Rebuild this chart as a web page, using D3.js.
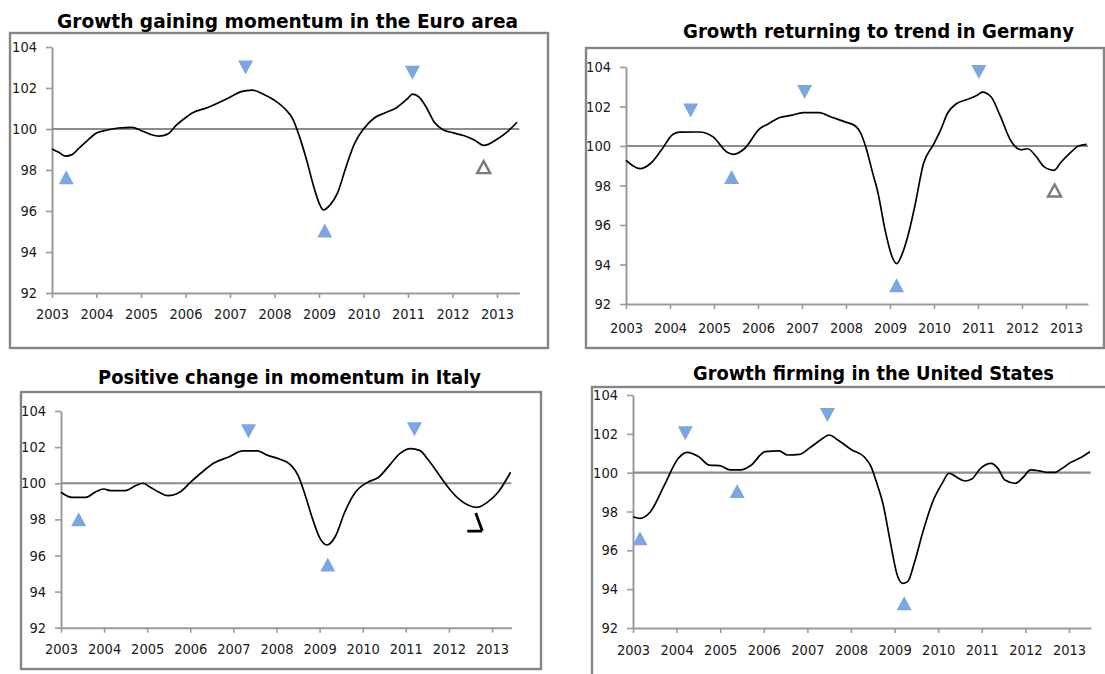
<!DOCTYPE html>
<html>
<head>
<meta charset="utf-8">
<script src="https://cdn.jsdelivr.net/npm/d3@7"></script>
<style>
  body { margin: 0; background: #fff; }
  text { font-family: "DejaVu Sans Condensed", "DejaVu Sans", sans-serif; }
</style>
</head>
<body>
<svg id="chart" width="1105" height="674"></svg>
<script>
// tick values shared by all four panels
var years = d3.range(2003, 2014);
var yTicks = [92, 94, 96, 98, 100, 102, 104];

// Euro area
var euroT = [2003.0, 2003.15, 2003.3, 2003.45, 2003.6, 2003.8, 2004.0, 2004.25, 2004.5, 2004.8, 2005.0, 2005.2, 2005.4, 2005.6, 2005.8, 2006.0, 2006.15, 2006.5, 2007.0, 2007.25, 2007.5, 2007.75, 2008.0, 2008.25, 2008.42, 2008.55, 2008.72, 2008.88, 2009.0, 2009.1, 2009.25, 2009.42, 2009.6, 2009.8, 2010.0, 2010.25, 2010.5, 2010.75, 2011.0, 2011.1, 2011.25, 2011.4, 2011.6, 2011.8, 2012.0, 2012.25, 2012.5, 2012.7, 2013.0, 2013.25, 2013.45];
var euroV = [99.03, 98.86, 98.68, 98.75, 99.05, 99.45, 99.8, 99.95, 100.05, 100.08, 99.93, 99.75, 99.65, 99.75, 100.2, 100.55, 100.78, 101.05, 101.55, 101.82, 101.9, 101.7, 101.4, 100.95, 100.45, 99.7, 98.5, 97.2, 96.4, 96.05, 96.3, 96.9, 98.1, 99.3, 100.0, 100.55, 100.8, 101.05, 101.5, 101.7, 101.55, 101.1, 100.3, 99.95, 99.82, 99.68, 99.45, 99.2, 99.5, 99.9, 100.33];
var euroUp = [[2003.32, 97.65], [2009.13, 95.05]];
var euroDown = [[2007.35, 103.0], [2011.1, 102.75]];
var euroOpen = [[2012.7, 98.14]];

// Germany
var gerT = [2003.0, 2003.32, 2003.55, 2003.8, 2004.07, 2004.23, 2004.66, 2004.98, 2005.29, 2005.45, 2005.69, 2006.04, 2006.24, 2006.48, 2006.75, 2007.03, 2007.39, 2007.66, 2007.98, 2008.22, 2008.34, 2008.45, 2008.61, 2008.73, 2008.89, 2009.05, 2009.15, 2009.28, 2009.4, 2009.56, 2009.76, 2010.0, 2010.15, 2010.31, 2010.51, 2010.75, 2010.98, 2011.1, 2011.3, 2011.5, 2011.74, 2011.97, 2012.13, 2012.33, 2012.49, 2012.73, 2012.89, 2013.12, 2013.28, 2013.47];
var gerV = [99.27, 98.85, 99.1, 99.78, 100.6, 100.7, 100.71, 100.46, 99.7, 99.58, 99.86, 100.88, 101.13, 101.43, 101.55, 101.69, 101.69, 101.47, 101.22, 101.0, 100.62, 99.95, 98.6, 97.59, 95.73, 94.38, 94.04, 94.55, 95.39, 96.91, 99.1, 100.12, 100.8, 101.67, 102.14, 102.35, 102.57, 102.73, 102.48, 101.55, 100.29, 99.81, 99.86, 99.44, 98.97, 98.77, 99.19, 99.7, 100.0, 100.08];
var gerUp = [[2005.4, 98.43], [2009.15, 92.95]];
var gerDown = [[2004.47, 101.8], [2007.06, 102.73], [2011.02, 103.75]];
var gerOpen = [[2012.74, 97.75]];

// Italy
var itaT = [2003.0, 2003.25, 2003.58, 2003.79, 2003.99, 2004.16, 2004.49, 2004.74, 2004.9, 2005.07, 2005.28, 2005.48, 2005.77, 2006.02, 2006.27, 2006.56, 2006.89, 2007.22, 2007.55, 2007.8, 2008.05, 2008.34, 2008.5, 2008.67, 2008.84, 2009.0, 2009.17, 2009.37, 2009.58, 2009.83, 2010.12, 2010.37, 2010.62, 2010.86, 2011.11, 2011.32, 2011.53, 2011.73, 2011.98, 2012.23, 2012.44, 2012.64, 2012.89, 2013.14, 2013.43];
var itaV = [99.5, 99.22, 99.22, 99.5, 99.68, 99.59, 99.59, 99.87, 100.0, 99.78, 99.5, 99.31, 99.53, 100.09, 100.61, 101.13, 101.45, 101.79, 101.79, 101.54, 101.36, 100.99, 100.43, 99.31, 98.0, 96.99, 96.58, 97.08, 98.38, 99.5, 100.06, 100.33, 100.99, 101.64, 101.92, 101.82, 101.27, 100.61, 99.78, 99.13, 98.79, 98.66, 98.94, 99.5, 100.61];
var itaUp = [[2003.41, 98.0], [2009.19, 95.5]];
var itaDown = [[2007.35, 102.88], [2011.2, 102.99]];
var itaBroken = [[2012.6, 97.85]];

// United States
var usT = [2003.0, 2003.16, 2003.4, 2003.72, 2004.04, 2004.24, 2004.51, 2004.75, 2004.99, 2005.23, 2005.47, 2005.71, 2006.03, 2006.35, 2006.55, 2006.82, 2007.06, 2007.3, 2007.5, 2007.7, 2008.02, 2008.3, 2008.46, 2008.58, 2008.74, 2008.9, 2009.06, 2009.18, 2009.3, 2009.45, 2009.65, 2009.89, 2010.09, 2010.25, 2010.41, 2010.61, 2010.77, 2010.97, 2011.21, 2011.37, 2011.53, 2011.77, 2011.96, 2012.12, 2012.32, 2012.48, 2012.68, 2012.84, 2013.04, 2013.24, 2013.48];
var usV = [97.73, 97.65, 97.99, 99.36, 100.74, 101.05, 100.82, 100.39, 100.36, 100.14, 100.14, 100.39, 101.08, 101.12, 100.91, 100.94, 101.29, 101.68, 101.94, 101.68, 101.17, 100.82, 100.31, 99.54, 98.33, 96.45, 94.73, 94.3, 94.39, 95.33, 96.96, 98.59, 99.45, 99.97, 99.79, 99.57, 99.67, 100.22, 100.48, 100.22, 99.62, 99.45, 99.79, 100.14, 100.09, 100.02, 100.02, 100.22, 100.53, 100.74, 101.08];
var usUp = [[2003.16, 96.62], [2005.39, 99.06], [2009.22, 93.27]];
var usDown = [[2004.2, 102.03], [2007.46, 102.97]];

var svg = d3.select("#chart");
svg.append("rect").attr("width", 1105).attr("height", 674).attr("fill", "#fff");

var panels = [
  { title: "Growth gaining momentum in the Euro area", tx: 287.5, ty: 28, tw: 461,
    frame: [10, 33, 538, 315], x0: 52, perYear: 44.5, xEnd: 2013.5, yTop: 47, yBottom: 293, xPad: 11,
    t: euroT, v: euroV, up: euroUp, down: euroDown, open: euroOpen, broken: [] },
  { title: "Growth returning to trend in Germany", tx: 878.5, ty: 38, tw: 391,
    frame: [586, 48, 518, 300], x0: 626, perYear: 44, xEnd: 2013.5, yTop: 67, yBottom: 304, xPad: 14,
    t: gerT, v: gerV, up: gerUp, down: gerDown, open: gerOpen, broken: [] },
  { title: "Positive change in momentum in Italy", tx: 289.5, ty: 384, tw: 383,
    frame: [21, 392, 520, 277], x0: 61, perYear: 43.1, xEnd: 2013.45, yTop: 411, yBottom: 627.7, xPad: 11,
    t: itaT, v: itaV, up: itaUp, down: itaDown, open: [], broken: itaBroken },
  { title: "Growth firming in the United States", tx: 873.5, ty: 380, tw: 361,
    frame: [592, 387, 600, 400], x0: 633, perYear: 43.6, xEnd: 2013.5, yTop: 395, yBottom: 628, xPad: 12,
    t: usT, v: usV, up: usUp, down: usDown, open: [], broken: [] }
];

function triangle(w, h) {
  return "M0," + (-h / 2) + "L" + (w / 2) + "," + (h / 2) + "L" + (-w / 2) + "," + (h / 2) + "Z";
}

function drawPanel(p) {
  var g = svg.append("g");

  g.append("rect")
    .attr("x", p.frame[0]).attr("y", p.frame[1])
    .attr("width", p.frame[2]).attr("height", p.frame[3])
    .attr("fill", "none").attr("stroke", "#858585").attr("stroke-width", 2.4);

  g.append("text")
    .attr("x", p.tx).attr("y", p.ty)
    .attr("text-anchor", "middle")
    .attr("font-family", "DejaVu Sans")
    .attr("font-weight", "bold")
    .attr("font-size", 20)
    .attr("textLength", p.tw)
    .attr("lengthAdjust", "spacingAndGlyphs")
    .attr("fill", "#000")
    .text(p.title);

  var x = d3.scaleLinear().domain([2003, p.xEnd]).range([p.x0, p.x0 + (p.xEnd - 2003) * p.perYear]);
  var y = d3.scaleLinear().domain([92, 104]).range([p.yBottom, p.yTop]);

  var ya = g.append("g")
    .attr("transform", "translate(" + p.x0 + ",0)")
    .call(d3.axisLeft(y).tickValues(yTicks).tickSize(6).tickSizeOuter(0).tickPadding(9));
  var xa = g.append("g")
    .attr("transform", "translate(0," + p.yBottom + ")")
    .call(d3.axisBottom(x).tickValues(years).tickFormat(d3.format("d")).tickSize(5).tickSizeOuter(0).tickPadding(p.xPad));

  [ya, xa].forEach(function (a) {
    a.select(".domain").attr("stroke", "#9a9a9a").attr("stroke-width", 2);
    a.selectAll(".tick line").attr("stroke", "#9a9a9a").attr("stroke-width", 1.6);
    a.selectAll(".tick text")
      .attr("font-family", "DejaVu Sans Condensed")
      .attr("font-size", 14.5)
      .attr("fill", "#1a1a1a");
  });

  // 100 = trend
  g.append("line")
    .attr("x1", x(2003)).attr("x2", x(p.xEnd))
    .attr("y1", y(100)).attr("y2", y(100))
    .attr("stroke", "#8c8c8c").attr("stroke-width", 2.2);

  var pts = p.t.map(function (d, i) { return [d, p.v[i]]; });
  g.append("path")
    .datum(pts)
    .attr("fill", "none")
    .attr("stroke", "#000")
    .attr("stroke-width", 1.7)
    .attr("d", d3.line().x(function (d) { return x(d[0]); }).y(function (d) { return y(d[1]); }).curve(d3.curveMonotoneX));

  g.selectAll(".up").data(p.up).enter().append("path")
    .attr("transform", function (d) { return "translate(" + x(d[0]) + "," + y(d[1]) + ")"; })
    .attr("d", triangle(15, 14))
    .attr("fill", "#7ba6e1");

  g.selectAll(".down").data(p.down).enter().append("path")
    .attr("transform", function (d) { return "translate(" + x(d[0]) + "," + y(d[1]) + ") rotate(180)"; })
    .attr("d", triangle(15, 14))
    .attr("fill", "#7ba6e1");

  g.selectAll(".open").data(p.open).enter().append("path")
    .attr("transform", function (d) { return "translate(" + x(d[0]) + "," + y(d[1]) + ")"; })
    .attr("d", triangle(13, 12))
    .attr("fill", "#fff")
    .attr("stroke", "#7a7a7a")
    .attr("stroke-width", 2.4);

  // the half-drawn open triangle in the Italy panel
  g.selectAll(".broken").data(p.broken).enter().append("path")
    .attr("transform", function (d) { return "translate(" + x(d[0]) + "," + y(d[1]) + ")"; })
    .attr("d", "M1,-9L7.5,9M-7.5,9L7.5,9")
    .attr("fill", "none")
    .attr("stroke", "#000")
    .attr("stroke-width", 2.8);
}

panels.forEach(drawPanel);
</script>
</body>
</html>
